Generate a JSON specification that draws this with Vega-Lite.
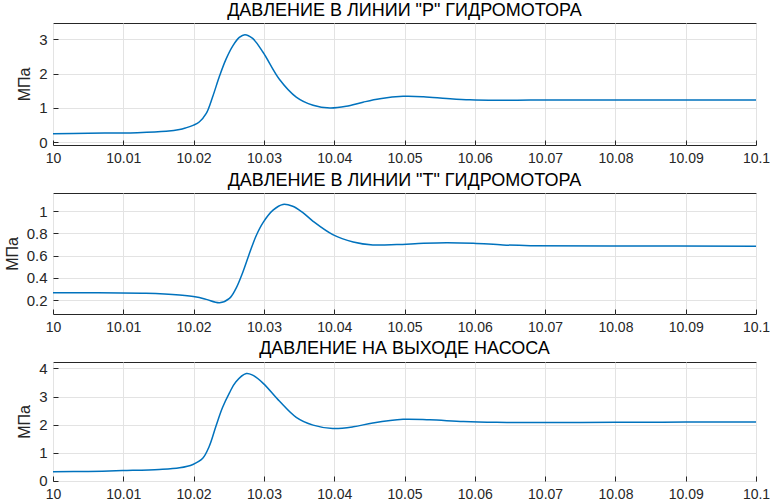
{
  "$schema": "https://vega.github.io/schema/vega-lite/v6.json",
  "padding": {"left": 3, "top": 1, "right": 5, "bottom": 0},
  "background": "white",
  "config": {
    "font": "Liberation Sans",
    "view": {"stroke": "#262626", "strokeWidth": 1},
    "axis": {
      "domain": false,
      "grid": true,
      "gridColor": "#e3e3e3",
      "gridWidth": 1,
      "tickColor": "#262626",
      "tickSize": -5,
      "labelColor": "#262626",
      "labelFont": "Liberation Sans",
      "labelFontSize": 14,
      "labelFlush": false,
      "labelOverlap": false,
      "titleFont": "Liberation Sans",
      "titleFontSize": 16,
      "titleFontWeight": "normal",
      "titleColor": "#262626"
    },
    "axisX": {"labelPadding": 11},
    "axisY": {"labelPadding": 11, "titlePadding": 6, "labelFontSize": 15},
    "title": {"font": "Liberation Sans", "fontSize": 18, "fontWeight": "normal", "color": "#000000", "offset": 3}
  },
  "datasets": {
    "p": [
      {"t": 10.000, "v": 0.25}, {"t": 10.005, "v": 0.26}, {"t": 10.0085, "v": 0.27}, {"t": 10.012, "v": 0.28},
      {"t": 10.0161, "v": 0.32}, {"t": 10.018, "v": 0.37}, {"t": 10.0189, "v": 0.42}, {"t": 10.0200, "v": 0.50},
      {"t": 10.0208, "v": 0.59}, {"t": 10.0218, "v": 0.84}, {"t": 10.0227, "v": 1.32}, {"t": 10.0237, "v": 1.94},
      {"t": 10.0246, "v": 2.42}, {"t": 10.0256, "v": 2.82}, {"t": 10.0265, "v": 3.06}, {"t": 10.0273, "v": 3.14},
      {"t": 10.0284, "v": 3.03}, {"t": 10.0299, "v": 2.62}, {"t": 10.0322, "v": 1.84}, {"t": 10.0346, "v": 1.32},
      {"t": 10.0370, "v": 1.08}, {"t": 10.0394, "v": 1.00}, {"t": 10.0417, "v": 1.05}, {"t": 10.0441, "v": 1.17},
      {"t": 10.0465, "v": 1.27}, {"t": 10.0498, "v": 1.34}, {"t": 10.0527, "v": 1.33}, {"t": 10.0560, "v": 1.28},
      {"t": 10.0593, "v": 1.24}, {"t": 10.0631, "v": 1.225}, {"t": 10.0679, "v": 1.23}, {"t": 10.075, "v": 1.235},
      {"t": 10.085, "v": 1.235}, {"t": 10.1, "v": 1.235}
    ],
    "tl": [
      {"t": 10.000, "v": 0.265}, {"t": 10.005, "v": 0.265}, {"t": 10.0132, "v": 0.26}, {"t": 10.018, "v": 0.245},
      {"t": 10.0204, "v": 0.228}, {"t": 10.0218, "v": 0.206}, {"t": 10.0237, "v": 0.176}, {"t": 10.0251, "v": 0.215},
      {"t": 10.026, "v": 0.3}, {"t": 10.027, "v": 0.45}, {"t": 10.028, "v": 0.63}, {"t": 10.0289, "v": 0.78},
      {"t": 10.0299, "v": 0.9}, {"t": 10.0313, "v": 1.01}, {"t": 10.0327, "v": 1.062}, {"t": 10.0341, "v": 1.045},
      {"t": 10.0355, "v": 0.99}, {"t": 10.037, "v": 0.91}, {"t": 10.0398, "v": 0.79}, {"t": 10.0427, "v": 0.724},
      {"t": 10.0455, "v": 0.697}, {"t": 10.0489, "v": 0.70}, {"t": 10.0527, "v": 0.712}, {"t": 10.056, "v": 0.717},
      {"t": 10.0598, "v": 0.712}, {"t": 10.064, "v": 0.697}, {"t": 10.0679, "v": 0.69}, {"t": 10.08, "v": 0.688},
      {"t": 10.1, "v": 0.685}
    ],
    "n": [
      {"t": 10.000, "v": 0.32}, {"t": 10.005, "v": 0.33}, {"t": 10.0099, "v": 0.36}, {"t": 10.0151, "v": 0.40},
      {"t": 10.018, "v": 0.46}, {"t": 10.0199, "v": 0.58}, {"t": 10.0213, "v": 0.80}, {"t": 10.0222, "v": 1.21},
      {"t": 10.0232, "v": 1.96}, {"t": 10.0241, "v": 2.6}, {"t": 10.0251, "v": 3.13}, {"t": 10.026, "v": 3.52},
      {"t": 10.0275, "v": 3.82}, {"t": 10.0284, "v": 3.76}, {"t": 10.0299, "v": 3.47}, {"t": 10.0322, "v": 2.84},
      {"t": 10.0346, "v": 2.26}, {"t": 10.037, "v": 1.98}, {"t": 10.0398, "v": 1.86}, {"t": 10.0427, "v": 1.92},
      {"t": 10.0455, "v": 2.06}, {"t": 10.0498, "v": 2.19}, {"t": 10.0536, "v": 2.17}, {"t": 10.0584, "v": 2.11},
      {"t": 10.0631, "v": 2.08}, {"t": 10.0679, "v": 2.07}, {"t": 10.08, "v": 2.08}, {"t": 10.09, "v": 2.09},
      {"t": 10.1, "v": 2.09}
    ]
  },
  "spacing": 48,
  "bounds": "flush",
  "vconcat": [
    {
      "title": "ДАВЛЕНИЕ В ЛИНИИ \"Р\" ГИДРОМОТОРА",
      "width": 703,
      "height": 122,
      "data": {"name": "p"},
      "mark": {"type": "line", "color": "#0072BD", "strokeWidth": 1.5, "interpolate": "catmull-rom", "clip": true},
      "encoding": {
        "x": {"field": "t", "type": "quantitative", "scale": {"domain": [10, 10.1], "nice": false, "zero": false},
              "axis": {"values": [10, 10.01, 10.02, 10.03, 10.04, 10.05, 10.06, 10.07, 10.08, 10.09, 10.1], "format": "~g", "title": null}},
        "y": {"field": "v", "type": "quantitative", "scale": {"domain": [-0.08, 3.48], "nice": false, "zero": false},
              "axis": {"values": [0, 1, 2, 3], "format": "~g", "title": "МПа"}}
      }
    },
    {
      "title": "ДАВЛЕНИЕ В ЛИНИИ \"Т\" ГИДРОМОТОРА",
      "width": 703,
      "height": 121,
      "data": {"name": "tl"},
      "mark": {"type": "line", "color": "#0072BD", "strokeWidth": 1.5, "interpolate": "catmull-rom", "clip": true},
      "encoding": {
        "x": {"field": "t", "type": "quantitative", "scale": {"domain": [10, 10.1], "nice": false, "zero": false},
              "axis": {"values": [10, 10.01, 10.02, 10.03, 10.04, 10.05, 10.06, 10.07, 10.08, 10.09, 10.1], "format": "~g", "title": null}},
        "y": {"field": "v", "type": "quantitative", "scale": {"domain": [0.074, 1.165], "nice": false, "zero": false},
              "axis": {"values": [0.2, 0.4, 0.6, 0.8, 1], "format": "~g", "title": "МПа"}}
      }
    },
    {
      "title": "ДАВЛЕНИЕ НА ВЫХОДЕ НАСОСА",
      "width": 703,
      "height": 119,
      "data": {"name": "n"},
      "mark": {"type": "line", "color": "#0072BD", "strokeWidth": 1.5, "interpolate": "catmull-rom", "clip": true},
      "encoding": {
        "x": {"field": "t", "type": "quantitative", "scale": {"domain": [10, 10.1], "nice": false, "zero": false},
              "axis": {"values": [10, 10.01, 10.02, 10.03, 10.04, 10.05, 10.06, 10.07, 10.08, 10.09, 10.1], "format": "~g", "title": null}},
        "y": {"field": "v", "type": "quantitative", "scale": {"domain": [-0.01, 4.23], "nice": false, "zero": false},
              "axis": {"values": [0, 1, 2, 3, 4], "format": "~g", "title": "МПа"}}
      }
    }
  ]
}
